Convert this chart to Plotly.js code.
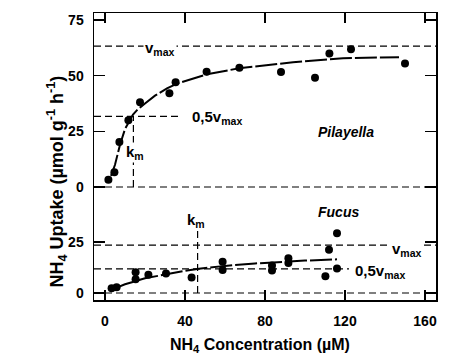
<!DOCTYPE html>
<html>
<head>
<meta charset="utf-8">
<script src="https://cdn.plot.ly/plotly-3.0.1.min.js"></script>
<style>html,body{margin:0;padding:0;background:#fff;}#chart{width:450px;height:363px;}</style>
</head>
<body>
<div id="chart"></div>
<script>
// Pilayella (upper panel)
var pilX = [1.7, 4.7, 7.2, 11.7, 17.5, 32.2, 35.3, 50.8, 67.2, 88, 105, 112.2, 123, 150];
var pilY = [3.3, 6.6, 20.2, 30, 38, 42.1, 47, 51.8, 53.6, 51.6, 49.1, 60, 61.8, 55.5];
var pilCurveX = [3, 5, 7.5, 10, 14, 16, 20, 25, 31, 36, 51, 67, 94, 119, 147];
var pilCurveY = [5, 10, 19, 26, 32.5, 34.5, 37.5, 41, 44.3, 46.4, 50.6, 53.3, 56, 57.8, 58.3];
var pilVmax = 63.3, pilHalf = 31.7, pilKm = 14.2;

// Fucus (lower panel)
var fucX = [3.3, 5.8, 15.3, 15.3, 21.7, 30.5, 43.3, 58.8, 58.8, 83.5, 83.5, 91.7, 91.7, 110.2, 112, 116, 116];
var fucY = [2.3, 2.8, 10.2, 6.8, 9.0, 9.6, 7.6, 15.3, 11.3, 13.5, 11.0, 17.1, 14.7, 8.2, 21.2, 29.3, 12.0];
var fucCurveX = [4, 10, 20, 30, 40, 47, 60, 75, 89, 100, 116];
var fucCurveY = [1.9, 4.3, 7.2, 9.2, 10.9, 11.9, 13.3, 14.5, 15.4, 15.9, 16.5];
var fucVmax = 23.5, fucHalf = 11.8, fucKm = 46.3, fucKmTop = 32;

var xTicks = [0, 40, 80, 120, 160];
var pilTicks = [0, 25, 50, 75];
var fucTicks = [0, 25];

var xRange = [-5.5, 165.5];
var pilEnd = 38, fucHalfEnd = 122;

var FONT = 'Liberation Sans, Arial, sans-serif';
var dashRef = {color: 'black', width: 1.2, dash: '7px,4px'};

var traces = [
  {x: pilCurveX, y: pilCurveY, xaxis: 'x2', yaxis: 'y2', mode: 'lines',
   line: {color: 'black', width: 2, dash: '22px,3px'}, hoverinfo: 'skip'},
  {x: pilX, y: pilY, xaxis: 'x2', yaxis: 'y2', mode: 'markers',
   marker: {color: 'black', size: 8}},
  {x: fucCurveX, y: fucCurveY, xaxis: 'x', yaxis: 'y', mode: 'lines',
   line: {color: 'black', width: 2, dash: '22px,3px'}, hoverinfo: 'skip'},
  {x: fucX, y: fucY, xaxis: 'x', yaxis: 'y', mode: 'markers',
   marker: {color: 'black', size: 8}}
];

var shapes = [
  // upper
  {type: 'line', xref: 'x2 domain', yref: 'y2', x0: 0, x1: 1, y0: pilVmax, y1: pilVmax, line: dashRef},
  {type: 'line', xref: 'x2 domain', yref: 'y2', x0: 0, x1: 1, y0: 0, y1: 0, line: dashRef},
  {type: 'line', xref: 'x2', yref: 'y2', x0: xRange[0], x1: pilEnd, y0: pilHalf, y1: pilHalf, line: dashRef},
  {type: 'line', xref: 'x2', yref: 'y2', x0: pilKm, x1: pilKm, y0: 0, y1: pilHalf, line: dashRef},
  // lower
  {type: 'line', xref: 'x domain', yref: 'y', x0: 0, x1: 1, y0: fucVmax, y1: fucVmax, line: dashRef},
  {type: 'line', xref: 'x domain', yref: 'y', x0: 0, x1: 1, y0: 0, y1: 0, line: dashRef},
  {type: 'line', xref: 'x', yref: 'y', x0: xRange[0], x1: fucHalfEnd, y0: fucHalf, y1: fucHalf, line: dashRef},
  {type: 'line', xref: 'x', yref: 'y', x0: fucKm, x1: fucKm, y0: 0, y1: fucKmTop, line: dashRef}
];

var lblFont = {family: FONT, size: 15, color: 'black', weight: 'bold'};
var annotations = [
  {xref: 'x2', yref: 'y2', x: 27.5, y: pilVmax, text: 'v<sub>max</sub>', showarrow: false, font: lblFont, bgcolor: 'white', yshift: -2},
  {xref: 'x2', yref: 'y2', x: 42.5, y: 31, xanchor: 'left', text: '0,5v<sub>max</sub>', showarrow: false, font: lblFont, bgcolor: 'white'},
  {xref: 'x2', yref: 'y2', x: 15.2, y: 15.3, text: 'k<sub>m</sub>', showarrow: false, font: lblFont, bgcolor: 'white', borderpad: 0},
  {xref: 'x2', yref: 'y2', x: 120.5, y: 24.8, text: '<i>Pilayella</i>', showarrow: false, font: {family: FONT, size: 14, color: 'black', weight: 'bold'}},
  {xref: 'x', yref: 'y', x: 116.5, y: 39.9, text: '<i>Fucus</i>', showarrow: false, font: {family: FONT, size: 14, color: 'black', weight: 'bold'}},
  {xref: 'x', yref: 'y', x: 45.3, y: 35.5, text: 'k<sub>m</sub>', showarrow: false, font: lblFont},
  {xref: 'x', yref: 'y', x: 151, y: 21.5, text: 'v<sub>max</sub>', showarrow: false, font: lblFont, bgcolor: 'white'},
  {xref: 'x', yref: 'y', x: 124, y: 10.5, xanchor: 'left', text: '0,5v<sub>max</sub>', showarrow: false, font: lblFont, bgcolor: 'white'},
  {xref: 'paper', yref: 'paper', x: -0.152, y: 0.411, textangle: -90, text: 'NH<sub>4</sub> Uptake (µmol g<sup>-1</sup> h<sup>-1</sup>)', showarrow: false, font: {family: FONT, size: 18, color: 'black', weight: 'bold'}},
  {xref: 'paper', yref: 'paper', x: 0.485, y: -0.16, yanchor: 'middle', text: 'NH<sub>4</sub> Concentration (µM)', showarrow: false, font: {family: FONT, size: 16, color: 'black', weight: 'bold'}}
];

var tickFont = {family: FONT, size: 14, color: 'black', weight: 'bold'};
var axBase = {showgrid: false, zeroline: false, showline: true, linecolor: 'black', linewidth: 1.5,
  ticks: 'inside', ticklen: 10, tickwidth: 1.5, tickcolor: 'black', tickfont: tickFont};

var layout = {
  width: 450, height: 363,
  margin: {l: 94, r: 14, t: 13, b: 63},
  paper_bgcolor: 'white', plot_bgcolor: 'white',
  showlegend: false,
  xaxis: Object.assign({}, axBase, {domain: [0, 1], anchor: 'y', range: xRange, tickvals: xTicks, ticklabelstandoff: 8}),
  xaxis2: Object.assign({}, axBase, {domain: [0, 1], anchor: 'y2', matches: 'x', side: 'top', range: xRange, tickvals: xTicks, showticklabels: false}),
  yaxis: Object.assign({}, axBase, {domain: [0, 0.3484], anchor: 'x', range: [-3.43, 45.6], tickvals: fucTicks, mirror: 'ticks', ticklen: 11, ticklabelstandoff: 6}),
  yaxis2: Object.assign({}, axBase, {domain: [0.3484, 1], anchor: 'x2', range: [-5.84, 78.13], tickvals: pilTicks, mirror: 'ticks', ticklen: 11, ticklabelstandoff: 6}),
  shapes: shapes,
  annotations: annotations
};

Plotly.newPlot('chart', traces, layout, {staticPlot: true, displayModeBar: false});
</script>
</body>
</html>
